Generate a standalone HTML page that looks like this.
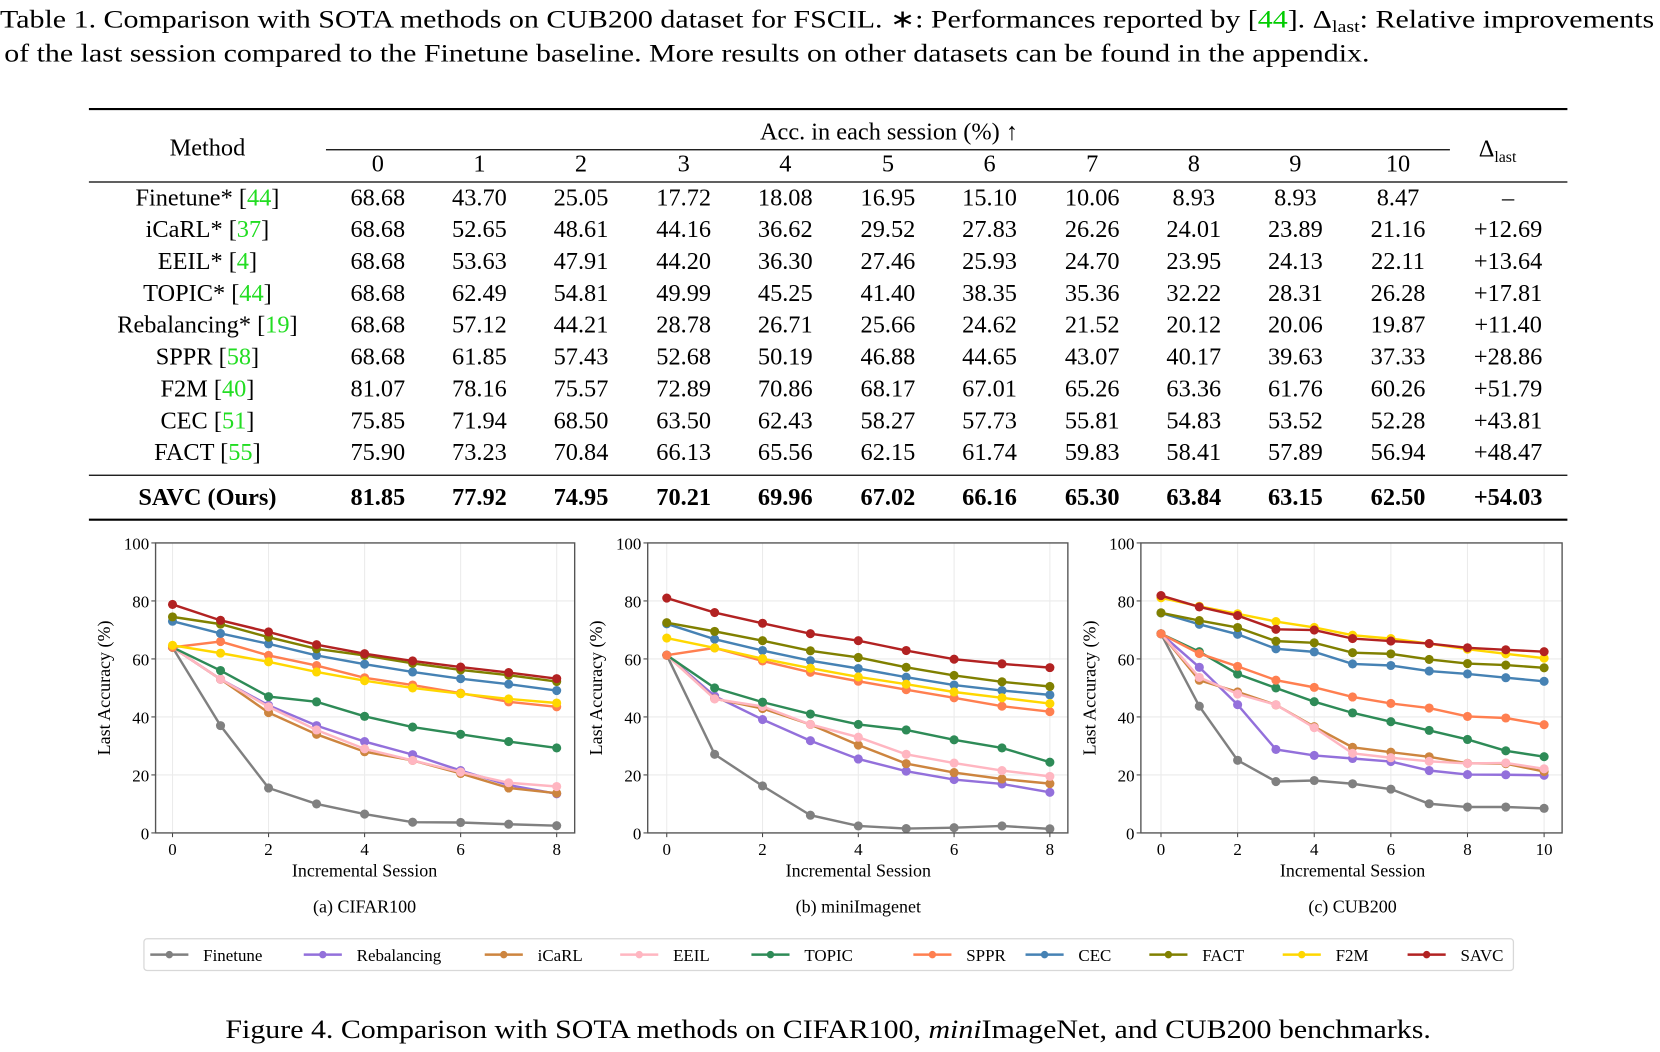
<!DOCTYPE html>
<html><head><meta charset="utf-8">
<style>
html,body{margin:0;padding:0;background:#fff;}
svg{display:block;font-family:"Liberation Serif",serif;}
</style></head>
<body>
<svg id="page" width="1660" height="1052" viewBox="0 0 1568.5 994" preserveAspectRatio="none" xmlns="http://www.w3.org/2000/svg">
<g id="caption" font-size="24" fill="#000">
<text x="0" y="26" textLength="1563" lengthAdjust="spacingAndGlyphs">Table 1. Comparison with SOTA methods on CUB200 dataset for FSCIL. ∗: Performances reported by [<tspan fill="#00cc00">44</tspan>]. Δ<tspan font-size="16" dy="4">last</tspan><tspan dy="-4">: Relative improvements</tspan></text>
<text x="4" y="58" textLength="1290" lengthAdjust="spacingAndGlyphs">of the last session compared to the Finetune baseline. More results on other datasets can be found in the appendix.</text>
</g>
<g id="table"></g>
<g id="charts"></g>
<g id="legend"></g>
<text x="213" y="981" font-size="25" textLength="1139" lengthAdjust="spacingAndGlyphs">Figure 4. Comparison with SOTA methods on CIFAR100, <tspan font-style="italic">mini</tspan>ImageNet, and CUB200 benchmarks.</text>
</svg>
<script>
const methods = ["Finetune","Rebalancing","iCaRL","EEIL","TOPIC","SPPR","CEC","FACT","F2M","SAVC"];
const colors = ["#808080","#9370DB","#CD853F","#FFB6C1","#2E8B57","#FF7F50","#4682B4","#808000","#FFD700","#B22222"];
// CIFAR100
const cifarFinetune=[64,37,15.5,10,6.5,3.7,3.6,3,2.5];
const cifarRebalancing=[64,53,44,37,31.5,27,21.5,16.5,13.5];
const cifarICaRL=[64,53,41.5,34,28,25,20.5,15.5,13.7];
const cifarEEIL=[64,53,43.5,35.5,29,25,21,17.3,16];
const cifarTOPIC=[64,56,47,45.2,40.2,36.5,34,31.5,29.3];
const cifarSPPR=[64,66,61.2,57.7,53.5,51,48.2,45.2,43.5];
const cifarCEC=[73,68.8,65.2,61.2,58.2,55.5,53.2,51.3,49.1];
const cifarFACT=[74.5,72,67.5,63.5,61.2,58.5,56.2,54.4,52.2];
const cifarF2M=[64.7,62,59,55.5,52.5,50,48,46.2,44.8];
const cifarSAVC=[78.8,73.3,69.3,64.9,61.8,59.3,57.2,55.3,53.2];
// miniImageNet
const miniFinetune=[61.3,27.1,16.2,6.1,2.4,1.5,1.8,2.4,1.4];
const miniRebalancing=[61.3,47.2,39.1,31.8,25.5,21.3,18.4,16.9,14.0];
const miniICaRL=[61.3,46.3,42.9,37.4,30.3,23.9,20.8,18.6,17.0];
const miniEEIL=[61.3,46.2,43.6,37.4,33.0,27.1,24.1,21.5,19.5];
const miniTOPIC=[61.3,50.0,45.1,41.0,37.4,35.5,32.1,29.3,24.4];
const miniSPPR=[61.3,63.8,59.3,55.4,52.3,49.4,46.6,43.7,41.8];
const miniCEC=[72.1,66.8,62.9,59.4,56.7,53.7,51.0,49.1,47.6];
const miniFACT=[72.5,69.5,66.3,62.8,60.5,57.1,54.3,52.1,50.5];
const miniF2M=[67.2,63.8,60.1,56.8,53.8,51.3,48.6,46.6,44.6];
const miniSAVC=[81.0,76.0,72.3,68.7,66.3,62.9,59.9,58.3,57.0];
// CUB200
const cubFinetune=[68.68,43.70,25.05,17.72,18.08,16.95,15.10,10.06,8.93,8.93,8.47];
const cubRebalancing=[68.68,57.12,44.21,28.78,26.71,25.66,24.62,21.52,20.12,20.06,19.87];
const cubICaRL=[68.68,52.65,48.61,44.16,36.62,29.52,27.83,26.26,24.01,23.89,21.16];
const cubEEIL=[68.68,53.63,47.91,44.20,36.30,27.46,25.93,24.70,23.95,24.13,22.11];
const cubTOPIC=[68.68,62.49,54.81,49.99,45.25,41.40,38.35,35.36,32.22,28.31,26.28];
const cubSPPR=[68.68,61.85,57.43,52.68,50.19,46.88,44.65,43.07,40.17,39.63,37.33];
const cubCEC=[75.85,71.94,68.50,63.50,62.43,58.27,57.73,55.81,54.83,53.52,52.28];
const cubFACT=[75.90,73.23,70.84,66.13,65.56,62.15,61.74,59.83,58.41,57.89,56.94];
const cubF2M=[81.07,78.16,75.57,72.89,70.86,68.17,67.01,65.26,63.36,61.76,60.26];
const cubSAVC=[81.85,77.92,74.95,70.21,69.96,67.02,66.16,65.30,63.84,63.15,62.50];
const yTicks=[0,20,40,60,80,100];
// table
const tableMethods=["Finetune*","iCaRL*","EEIL*","TOPIC*","Rebalancing*","SPPR","F2M","CEC","FACT"];
const tableRefs=["44","37","4","44","19","58","40","51","55"];
const tableRows=[cubFinetune,cubICaRL,cubEEIL,cubTOPIC,cubRebalancing,cubSPPR,cubF2M,cubCEC,cubFACT];
const tableDelta=["–","+12.69","+13.64","+17.81","+11.40","+28.86","+51.79","+43.81","+48.47"];
const savcDelta="+54.03";

const NS="http://www.w3.org/2000/svg";
function mk(tag,attrs,parent,txt){const e=document.createElementNS(NS,tag);for(const k in attrs)e.setAttribute(k,attrs[k]);if(txt!==undefined)e.textContent=txt;parent.appendChild(e);return e;}

// ---- table
const T=document.getElementById('table');
const colX=[357,453,549,646,742,839,935,1032,1128,1224,1321];
let r;
r=mk('line',{x1:84,x2:1481,y1:103,y2:103,stroke:'#000','stroke-width':2},T);


r=mk('line',{x1:308,x2:1370,y1:141.5,y2:141.5,stroke:'#000','stroke-width':1.2},T);


r=mk('line',{x1:84,x2:1481,y1:172,y2:172,stroke:'#000','stroke-width':1.2},T);


r=mk('line',{x1:84,x2:1481,y1:449,y2:449,stroke:'#000','stroke-width':1.2},T);


r=mk('line',{x1:84,x2:1481,y1:491,y2:491,stroke:'#000','stroke-width':2},T);


let t=mk('text',{x:196,y:147,'text-anchor':'middle','font-size':23},T,'Method');


t=mk('text',{x:840,y:132,'text-anchor':'middle','font-size':23},T,'Acc. in each session (%) ↑');


t=mk('text',{x:1415,y:148,'text-anchor':'middle','font-size':23},T,'Δ');


mk('tspan',{'font-size':15,dy:5},t,'last');
colX.forEach((x,i)=>{const h=mk('text',{x:x,y:162,'text-anchor':'middle','font-size':23},T,String(i));

});
tableMethods.forEach((m,i)=>{
  const y=194+i*30.1;
  const n=mk('text',{x:196,y:y,'text-anchor':'middle','font-size':23},T,m+' [');
  
  
  mk('tspan',{fill:'#22dd22'},n,tableRefs[i]);
  mk('tspan',{},n,']');
  tableRows[i].forEach((v,j)=>{const c=mk('text',{x:colX[j],y:y,'text-anchor':'middle','font-size':23},T,v.toFixed(2));
  
  });
  const d=mk('text',{x:1425,y:y,'text-anchor':'middle','font-size':23},T,tableDelta[i]);
  
  
});
{
  const y=477;
  const n=mk('text',{x:196,y:y,'text-anchor':'middle','font-size':23,'font-weight':'bold'},T,'SAVC (Ours)');
  
  
  cubSAVC.forEach((v,j)=>{const c=mk('text',{x:colX[j],y:y,'text-anchor':'middle','font-size':23,'font-weight':'bold'},T,v.toFixed(2));
  
  });
  const d=mk('text',{x:1425,y:y,'text-anchor':'middle','font-size':23,'font-weight':'bold'},T,savcDelta);
  
  
}

// ---- charts
const C=document.getElementById('charts');
function chart(name,caption,L,R,x0px,xNpx,series,xTickStep){
  const top=513,bot=787;
  const g=mk('g',{},C);
  
  
  const n=series[0].length-1;
  const xs=i=>x0px+(xNpx-x0px)*i/n;
  const ys=v=>bot-(bot-top)*v/100;
  yTicks.forEach(v=>{
    const gl=mk('line',{x1:L,x2:R,y1:ys(v),y2:ys(v),stroke:'#ebebeb','stroke-width':1},g);
    
    
    const tk=mk('line',{x1:L-4,x2:L,y1:ys(v),y2:ys(v),stroke:'#444','stroke-width':1},g);
    
    
    const lb=mk('text',{x:L-6,y:ys(v)+6,'text-anchor':'end','font-size':16},g,String(v));
    
    
  });
  for(let i=0;i<=n;i+=xTickStep){
    const gl=mk('line',{x1:xs(i),x2:xs(i),y1:top,y2:bot,stroke:'#ebebeb','stroke-width':1},g);
    
    
    const tk=mk('line',{x1:xs(i),x2:xs(i),y1:bot,y2:bot+4,stroke:'#444','stroke-width':1},g);
    
    
    const lb=mk('text',{x:xs(i),y:bot+21,'text-anchor':'middle','font-size':16},g,String(i));
    
    
  }
  series.forEach((s,k)=>{
    const pl=mk('polyline',{points:s.map((v,i)=>xs(i)+','+ys(v)).join(' '),fill:'none',stroke:colors[k],'stroke-width':2.3},g);
    
    
    s.forEach((v,i)=>{
      const c=mk('circle',{cx:xs(i),cy:ys(v),r:4.3,fill:colors[k]},g);
      
      
    });
  });
  const fr=mk('rect',{x:L,y:top,width:R-L,height:bot-top,fill:'none',stroke:'#555','stroke-width':1.3},g);
  
  
  const yl=mk('text',{x:0,y:0,'text-anchor':'middle','font-size':17,transform:`translate(${L-43},${(top+bot)/2}) rotate(-90)`},g,'Last Accuracy (%)');
  
  
  const xl=mk('text',{x:(x0px+xNpx)/2,y:828,'text-anchor':'middle','font-size':17},g,'Incremental Session');
  
  
  const cp=mk('text',{x:(x0px+xNpx)/2,y:862,'text-anchor':'middle','font-size':17},g,caption);
  
  
}
chart('chart-cifar100','(a) CIFAR100',147,543,163,526,[cifarFinetune,cifarRebalancing,cifarICaRL,cifarEEIL,cifarTOPIC,cifarSPPR,cifarCEC,cifarFACT,cifarF2M,cifarSAVC],2);
chart('chart-miniimagenet','(b) miniImagenet',612,1009,630,992,[miniFinetune,miniRebalancing,miniICaRL,miniEEIL,miniTOPIC,miniSPPR,miniCEC,miniFACT,miniF2M,miniSAVC],2);
chart('chart-cub200','(c) CUB200',1078,1476,1097,1459,[cubFinetune,cubRebalancing,cubICaRL,cubEEIL,cubTOPIC,cubSPPR,cubCEC,cubFACT,cubF2M,cubSAVC],2);

// ---- legend
const G=document.getElementById('legend');
const lb=mk('rect',{x:136,y:887,width:1294,height:30,rx:3,fill:'#fff',stroke:'#d8d8d8','stroke-width':1.2},G);


const legX=[142,287,458,586,710,863,969,1086,1212,1330];
methods.forEach((m,k)=>{
  const e=mk('g',{},G);
  
  
  mk('line',{x1:legX[k],x2:legX[k]+36,y1:902,y2:902,stroke:colors[k],'stroke-width':2.3},e);
  mk('circle',{cx:legX[k]+18,cy:902,r:3.5,fill:colors[k]},e);
  mk('text',{x:legX[k]+50,y:908,'font-size':16},e,m);
});
</script>
</body></html>
